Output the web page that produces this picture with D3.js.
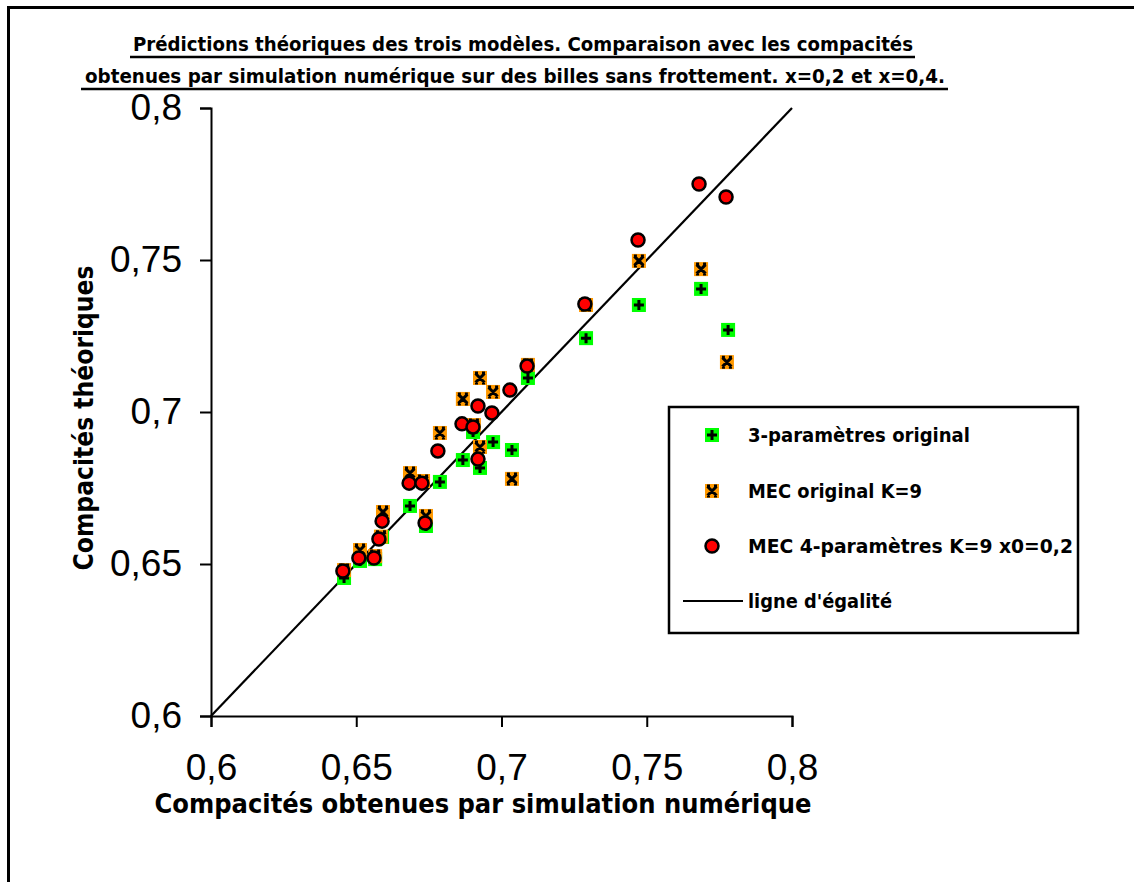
<!DOCTYPE html>
<html>
<head>
<meta charset="utf-8">
<script src="https://cdn.jsdelivr.net/npm/d3@7"></script>
<style>
	body { margin: 0; background: white; }
	svg { display: block; }
</style>
</head>
<body>
<svg width="1134" height="882"></svg>
<script>
// values
let ticks = [0.6, 0.65, 0.7, 0.75, 0.8]

let x3p = [0.6458, 0.6513, 0.6565, 0.6589, 0.6685, 0.674, 0.6788, 0.6867, 0.6902, 0.6926, 0.6971, 0.7036, 0.7091, 0.7291, 0.7473, 0.7687, 0.778]
let y3p = [0.6454, 0.651, 0.6516, 0.6589, 0.6691, 0.6625, 0.677, 0.6842, 0.6934, 0.6816, 0.6901, 0.6875, 0.7112, 0.7243, 0.7352, 0.7405, 0.727]

let xMec = [0.6458, 0.6513, 0.6565, 0.6585, 0.6592, 0.6685, 0.673, 0.674, 0.6788, 0.6867, 0.6905, 0.6926, 0.6926, 0.6971, 0.7036, 0.7091, 0.7291, 0.7473, 0.7687, 0.7776]
let yMec = [0.648, 0.6546, 0.6526, 0.659, 0.6671, 0.6799, 0.6773, 0.6658, 0.6931, 0.7043, 0.6957, 0.7112, 0.6885, 0.7066, 0.678, 0.7155, 0.7352, 0.7497, 0.747, 0.7164]

let xMec4 = [0.6454, 0.6509, 0.6561, 0.6578, 0.6589, 0.6682, 0.6726, 0.6737, 0.6781, 0.6864, 0.6902, 0.6919, 0.6919, 0.6967, 0.7029, 0.7088, 0.7287, 0.747, 0.768, 0.7773]
let yMec4 = [0.6477, 0.652, 0.652, 0.6582, 0.6641, 0.6766, 0.6766, 0.6635, 0.6872, 0.6961, 0.6951, 0.702, 0.6845, 0.6997, 0.7072, 0.7151, 0.7355, 0.7566, 0.775, 0.7707]

let xEgal = [0.6, 0.8]
let yEgal = [0.6, 0.8]

let labels = ['3-paramètres original', 'MEC original K=9', 'MEC 4-paramètres K=9 x0=0,2', "ligne d'égalité"]

let comic = '"Comic Sans MS", "DejaVu Sans", sans-serif'
let plain = '"Liberation Sans", Arial, sans-serif'

let svg = d3.select('svg')

let x = d3.scaleLinear().domain([0.6, 0.8]).range([211, 792])
let y = d3.scaleLinear().domain([0.6, 0.8]).range([716, 108])
let fmt = v => String(+v.toFixed(2)).replace('.', ',')

// frame (top + left only)
svg.append('path')
	.attr('d', 'M8.5,882 L8.5,7.5 L1134,7.5')
	.attr('fill', 'none').attr('stroke', 'black').attr('stroke-width', 3)

// title
let title = [
	{t: 'Prédictions théoriques des trois modèles. Comparaison avec les compacités', cx: 523, w: 780, by: 51, ux0: 130, ux1: 915},
	{t: 'obtenues par simulation numérique sur des billes sans frottement. x=0,2 et x=0,4.', cx: 515, w: 860, by: 83, ux0: 81, ux1: 948}
]
title.forEach(d => {
	svg.append('text')
		.attr('x', d.cx).attr('y', d.by)
		.attr('text-anchor', 'middle')
		.attr('textLength', d.w).attr('lengthAdjust', 'spacingAndGlyphs')
		.style('font-family', comic).style('font-weight', 'bold').style('font-size', '20px')
		.text(d.t)
	svg.append('line')
		.attr('x1', d.ux0).attr('x2', d.ux1)
		.attr('y1', d.by + 6).attr('y2', d.by + 6)
		.attr('stroke', 'black').attr('stroke-width', 2.5)
})

// axes
let xAxis = svg.append('g').attr('transform', 'translate(0,716)')
	.call(d3.axisBottom(x).tickValues(ticks).tickFormat(fmt).tickSize(11).tickPadding(26))
let yAxis = svg.append('g').attr('transform', 'translate(211,0)')
	.call(d3.axisLeft(y).tickValues(ticks).tickFormat(fmt).tickSize(11).tickPadding(18))

;[xAxis, yAxis].forEach(g => {
	g.select('.domain').attr('stroke-width', 2)
	g.selectAll('.tick line').attr('stroke-width', 2)
	g.selectAll('.tick text')
		.style('font-family', plain).style('font-size', '37px').attr('fill', 'black')
})
xAxis.selectAll('.tick text').attr('dy', '0.72em')

// axis titles
svg.append('text')
	.attr('x', 483).attr('y', 813)
	.attr('text-anchor', 'middle')
	.attr('textLength', 657).attr('lengthAdjust', 'spacingAndGlyphs')
	.style('font-family', comic).style('font-weight', 'bold').style('font-size', '27px')
	.text('Compacités obtenues par simulation numérique')
svg.append('text')
	.attr('transform', 'translate(93,418) rotate(-90)')
	.attr('text-anchor', 'middle')
	.attr('textLength', 305).attr('lengthAdjust', 'spacingAndGlyphs')
	.style('font-family', comic).style('font-weight', 'bold').style('font-size', '26px')
	.text('Compacités théoriques')

// ligne d'égalité
let line = d3.line().x(d => x(d[0])).y(d => y(d[1]))
svg.append('path')
	.attr('d', line(d3.zip(xEgal, yEgal)))
	.attr('fill', 'none').attr('stroke', 'black').attr('stroke-width', 2.2)

// markers
let drawPlus = function(g) {
	g.append('rect').attr('x', -7).attr('y', -7).attr('width', 14).attr('height', 14).attr('fill', '#00ff00')
	g.append('path').attr('d', 'M-5,0 H5 M0,-5 V5').attr('stroke', 'black').attr('stroke-width', 3)
}
let drawCross = function(g) {
	g.append('rect').attr('x', -7).attr('y', -7).attr('width', 14).attr('height', 14).attr('fill', '#ff9900')
	g.append('path').attr('d', 'M-4.5,-4.5 L4.5,4.5 M4.5,-4.5 L-4.5,4.5 M-5,-5 H-2 M2,-5 H5 M-5,5 H-2 M2,5 H5')
		.attr('stroke', 'black').attr('stroke-width', 3)
}
let drawCircle = function(g) {
	g.append('circle').attr('r', 6.5).attr('fill', '#ff0000').attr('stroke', 'black').attr('stroke-width', 2.5)
}

let series = [
	{xs: x3p, ys: y3p, draw: drawPlus},
	{xs: xMec, ys: yMec, draw: drawCross},
	{xs: xMec4, ys: yMec4, draw: drawCircle}
]
series.forEach(s => {
	let g = svg.append('g')
	s.xs.forEach((v, i) => {
		let m = g.append('g').attr('transform', `translate(${x(v)},${y(s.ys[i])})`)
		s.draw(m)
	})
})

// legend
let lg = svg.append('g')
lg.append('rect')
	.attr('x', 669).attr('y', 407).attr('width', 409).attr('height', 226)
	.attr('fill', 'white').attr('stroke', 'black').attr('stroke-width', 2.5)
let rows = [435, 491, 546, 601]
let lens = [222, 174, 325, 144]
let draws = [drawPlus, drawCross, drawCircle]
rows.forEach((ry, i) => {
	if (i < 3) {
		draws[i](lg.append('g').attr('transform', `translate(712,${ry})`))
	} else {
		lg.append('line').attr('x1', 683).attr('x2', 743).attr('y1', ry).attr('y2', ry)
			.attr('stroke', 'black').attr('stroke-width', 2.2)
	}
	lg.append('text')
		.attr('x', 748).attr('y', ry + 7)
		.attr('textLength', lens[i]).attr('lengthAdjust', 'spacingAndGlyphs')
		.style('font-family', comic).style('font-weight', 'bold').style('font-size', '20px')
		.text(labels[i])
})
</script>
</body>
</html>
